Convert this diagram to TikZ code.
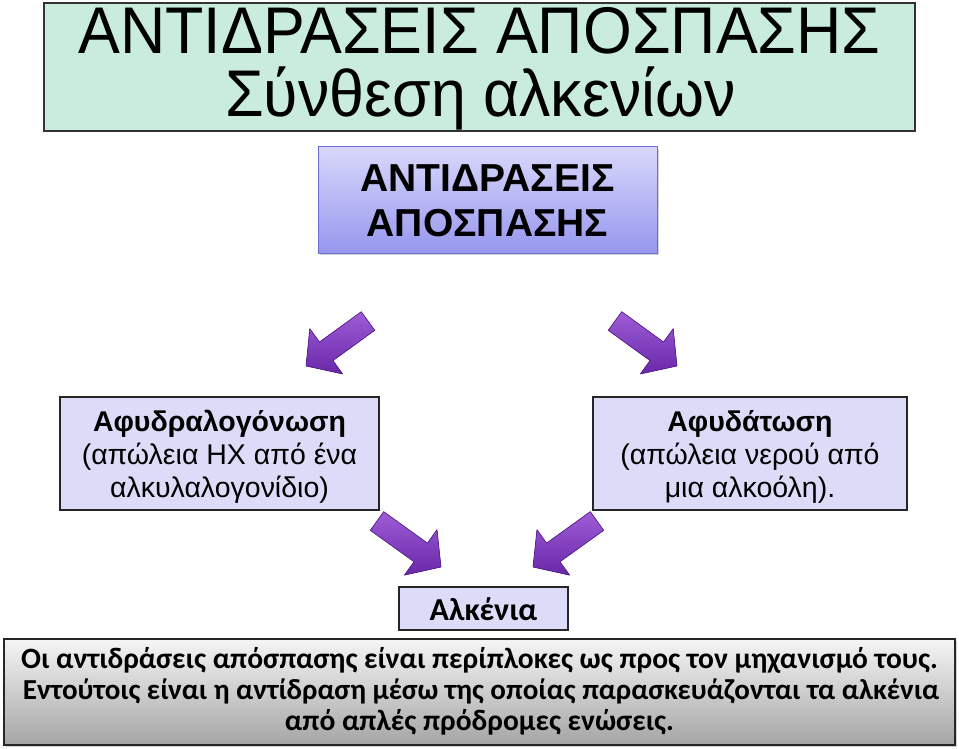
\documentclass[tikz,border=0pt]{standalone}
\usepackage{fontspec}
\setmainfont{Liberation Sans}
\newfontfamily\carl{Carlito}
\newfontfamily\narrowfont[FakeStretch=0.95]{Liberation Sans}
\usetikzlibrary{calc,shadows}
\definecolor{mint}{RGB}{201,236,221}
\definecolor{lav}{RGB}{220,220,249}
\definecolor{lavtop}{RGB}{216,216,252}
\definecolor{lavbot}{RGB}{150,150,238}
\definecolor{lavedge}{RGB}{110,110,210}
\definecolor{purlight}{RGB}{158,92,214}
\definecolor{purdark}{RGB}{104,40,168}
\definecolor{puredge}{RGB}{84,26,140}
\definecolor{greytop}{RGB}{245,245,245}
\definecolor{greybot}{RGB}{165,165,165}
\tikzset{
  plainbox/.style={draw=black!85, line width=1.4pt, fill=lav},
  txt/.style={anchor=base, inner sep=0pt, outer sep=0pt},
  arrowfill/.style={top color=purlight, bottom color=purdark, draw=puredge, line width=0.6pt, line join=round},
  softshadow/.style={drop shadow={opacity=0.35, shadow xshift=2pt, shadow yshift=-2pt}}
}
\newcommand\blockarrow[2]{%
  \coordinate (#1h) at ($(#2)!25pt!(#1)$);
  \filldraw[arrowfill]
    ($(#1)!11.5pt!90:(#2)$) --
    ($(#1h)!11.5pt!-90:(#1)$) --
    ($(#1h)!28pt!-90:(#1)$) --
    (#2) --
    ($(#1h)!28pt!90:(#1)$) --
    ($(#1h)!11.5pt!90:(#1)$) --
    ($(#1)!11.5pt!-90:(#2)$) -- cycle;
}
\begin{document}
\begin{tikzpicture}[x=1pt,y=-1pt]
\useasboundingbox (0,0) rectangle (959,749);

% title
\draw[fill=mint, draw=black!80, line width=2pt] (44,3) rectangle (915,131);
\node[txt, font=\narrowfont\fontsize{66}{66}\selectfont] (t1) at (479.5,54) {ΑΝΤΙΔΡΑΣΕΙΣ ΑΠΟΣΠΑΣΗΣ};
\node[txt, font=\narrowfont\fontsize{66}{66}\selectfont] (t2) at (480.5,117) {Σύνθεση αλκενίων};

% top box
\path[top color=lavtop, bottom color=lavbot, draw=lavedge, line width=1pt, softshadow] (318,147) rectangle (657,253);
\node[txt, font=\bfseries\fontsize{39}{39}\selectfont] (b1) at (487.5,192) {ΑΝΤΙΔΡΑΣΕΙΣ};
\node[txt, font=\bfseries\fontsize{39}{39}\selectfont] (b2) at (487.5,236) {ΑΠΟΣΠΑΣΗΣ};

% arrows
\coordinate (a1s) at (368,321); \coordinate (a1e) at (306,366);
\coordinate (a2s) at (615,321); \coordinate (a2e) at (677,366);
\coordinate (a3s) at (377,521); \coordinate (a3e) at (441,567);
\coordinate (a4s) at (597,521); \coordinate (a4e) at (533,567);
\blockarrow{a1s}{a1e}
\blockarrow{a2s}{a2e}
\blockarrow{a3s}{a3e}
\blockarrow{a4s}{a4e}

% left box
\draw[plainbox] (60,397) rectangle (379,510);
\node[txt, font=\bfseries\fontsize{28.5}{28.5}\selectfont] (l1) at (219.5,431) {Αφυδραλογόνωση};
\node[txt, font=\fontsize{28.5}{28.5}\selectfont] (l2) at (219.5,464) {(απώλεια ΗΧ από ένα};
\node[txt, font=\fontsize{28.5}{28.5}\selectfont] (l3) at (219.5,497) {αλκυλαλογονίδιο)};

% right box
\draw[plainbox] (593,397) rectangle (907,510);
\node[txt, font=\bfseries\fontsize{28.5}{28.5}\selectfont] (r1) at (750,431) {Αφυδάτωση};
\node[txt, font=\fontsize{28.5}{28.5}\selectfont] (r2) at (750,464) {(απώλεια νερού από};
\node[txt, font=\fontsize{28.5}{28.5}\selectfont] (r3) at (750,497) {μια αλκοόλη).};

% alkenes
\draw[plainbox] (399,587) rectangle (568,630);
\node[txt, font=\carl\bfseries\fontsize{32}{32}\selectfont] (al) at (483.5,620) {Αλκένια};

% bottom box
\path[top color=greytop, bottom color=greybot, draw=black!85, line width=1.6pt, softshadow] (4,639) rectangle (955,745);
\node[txt, font=\carl\bfseries\fontsize{29.5}{29.5}\selectfont] (n1) at (479.5,668) {Οι αντιδράσεις απόσπασης είναι περίπλοκες ως προς τον μηχανισμό τους.};
\node[txt, font=\carl\bfseries\fontsize{29}{29}\selectfont] (n2) at (481,699) {Εντούτοις είναι η αντίδραση μέσω της οποίας παρασκευάζονται τα αλκένια};
\node[txt, font=\carl\bfseries\fontsize{29.5}{29.5}\selectfont] (n3) at (479.5,730) {από απλές πρόδρομες ενώσεις.};
\end{tikzpicture}
\end{document}
